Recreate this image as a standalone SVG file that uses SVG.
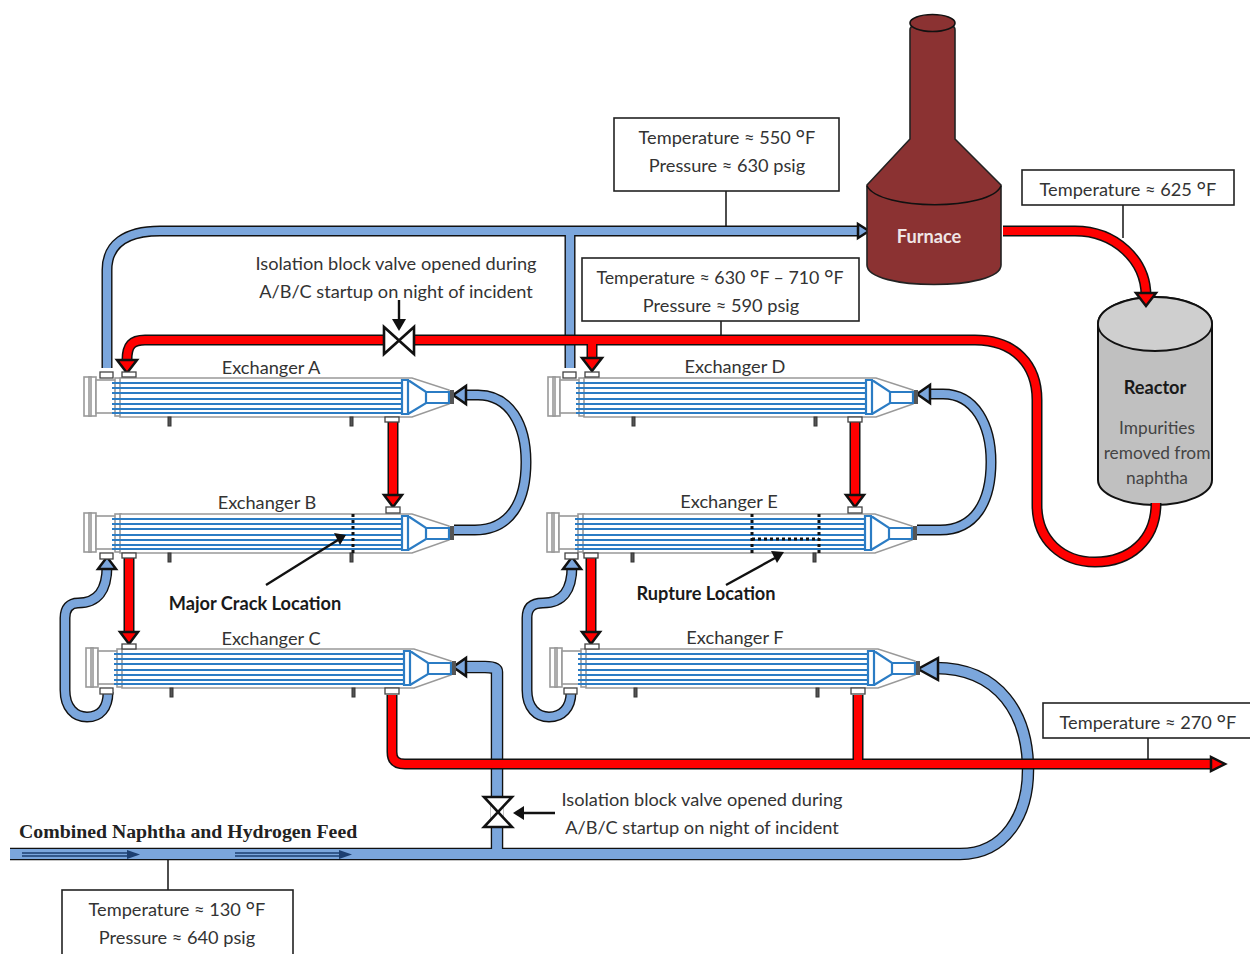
<svg xmlns="http://www.w3.org/2000/svg" xmlns:xlink="http://www.w3.org/1999/xlink" width="1250" height="954" viewBox="0 0 1250 954">
<style>
text{font-family:"Lato","Open Sans","Liberation Sans",sans-serif;font-size:18.2px;fill:#333;text-anchor:middle}
.b{font-weight:700;fill:#1a1a1a}
.s{font-size:17.3px;fill:#444}
.w{font-size:17.8px}
.feed{font-family:"Liberation Serif",serif;font-weight:700;font-size:19.800px;fill:#222;text-anchor:start}
.deg{font-size:23px}
.box{fill:#fff;stroke:#222;stroke-width:1.6}
.lead{fill:none;stroke:#222;stroke-width:1.6}
.po{fill:none;stroke:#111;stroke-width:11}
.pw{fill:none;stroke:#111;stroke-width:12.500}
.pb{fill:none;stroke:#7ba6dc;stroke-width:8.2}
.pf{fill:none;stroke:#7ba6dc;stroke-width:9.800}
.pr{fill:none;stroke:#f00;stroke-width:8}
.hb{fill:#7ba6dc;stroke:#111;stroke-width:2.5;stroke-linejoin:miter}
.hr{fill:#f00;stroke:#111;stroke-width:2.5;stroke-linejoin:miter}
.sh{fill:#fff;stroke:#999;stroke-width:1.6}
.tube{fill:none;stroke:#2b7cc4;stroke-width:2.2}
.tb{fill:#fff;stroke:#2b7cc4;stroke-width:2.2}
.noz{fill:#fff;stroke:#444;stroke-width:1.3}
.foot{fill:#555;stroke:#333;stroke-width:1}
.dash{fill:none;stroke:#111;stroke-width:3;stroke-dasharray:3 3}
.arr{fill:none;stroke:#111;stroke-width:2.4}
.valve{fill:#fff;stroke:#111;stroke-width:2.6;stroke-linejoin:miter}
</style>
<defs>
<g id="hx">
<rect class="sh" x="0" y="0" width="12" height="39"/>
<rect class="sh" x="5" y="0" width="2" height="39"/>
<rect class="sh" x="12" y="3" width="20" height="33"/>
<rect class="sh" x="31" y="1" width="6" height="38"/>
<path class="sh" d="M36 1H328L365 13V27L328 40H36Z"/>
<path class="tube" d="M28 6H318M28 11H318M28 16H318M28 22H318M28 27H318M28 32H318M28 36H318"/>
<path class="tb" d="M318 3H324V37H318ZM324 3L342 15H365V26H342L324 37"/>
<path class="tube" d="M342 15V26"/>
<rect x="366" y="13" width="4" height="14" fill="#555"/>
<rect class="foot" x="84" y="40" width="3" height="9"/>
<rect class="foot" x="266" y="40" width="3" height="9"/>
</g>
</defs>

<g id="reactor">
<path d="M1098 324A57 27 0 0 1 1212 324V480A57 25 0 0 1 1098 480Z" fill="#c0c0c0" stroke="#111" stroke-width="2"/>
<ellipse cx="1155" cy="324" rx="57" ry="27" fill="#cfcfcf" stroke="#111" stroke-width="1.800"/>
<text class="b" x="1155" y="394">Reactor</text>
<text class="s" x="1157" y="434">Impurities</text>
<text class="s" x="1157" y="459">removed from</text>
<text class="s" x="1157" y="484">naphtha</text>
</g>

<g id="connectors">
<path class="lead" d="M726 190V231M1123 205V238M721 320V340M1148 738V764M168 858V890"/>
<!-- blue feed -->
<path class="pw" d="M10 854H960C1005 854 1028 815 1028 770C1028 715 1000 668 935 668M497 854V672C497 668 492 667 485 667H465"/>
<path class="pf" d="M10 854H960C1005 854 1028 815 1028 770C1028 715 1000 668 935 668M497 854V672C497 668 492 667 485 667H465"/>
<!-- blue furnace feed -->
<path class="po" d="M107 368V270C107 245 125 231 160 231H862M570 231V368"/>
<path class="pb" d="M107 368V270C107 245 125 231 160 231H862M570 231V368"/>
<!-- blue loops -->
<path class="po" d="M462 395H478C510 395 526 425 526 462C526 502 510 530 475 530H454M925 394H943C975 394 991 425 991 462C991 502 975 530 940 530H917"/>
<path class="pb" d="M462 395H478C510 395 526 425 526 462C526 502 510 530 475 530H454M925 394H943C975 394 991 425 991 462C991 502 975 530 940 530H917"/>
<path class="po" d="M107 566C107 590 98 603 78 603C70 603 65 608 65 618V690C65 708 75 717 87 717C100 717 108 708 108 692M572 566C572 590 563 603 543 603C532 603 527 608 527 618V690C527 708 537 717 549 717C562 717 571 708 571 692"/>
<path class="pb" d="M107 566C107 590 98 603 78 603C70 603 65 608 65 618V690C65 708 75 717 87 717C100 717 108 708 108 692M572 566C572 590 563 603 543 603C532 603 527 608 527 618V690C527 708 537 717 549 717C562 717 571 708 571 692"/>
<!-- red -->
<path class="po" d="M1003 231H1075C1115 231 1146 260 1146 296M127 360C127 345 132 340 145 340H975C1015 340 1037 365 1037 400V505C1037 540 1062 562 1095 562C1130 562 1156 540 1156 503M592 340V360M393 422V498M855 422V498M129 558V634M591 558V634M392 695V752C392 760 396 764 405 764H1214M858 695V764"/>
<path class="pr" d="M1003 231H1075C1115 231 1146 260 1146 296M127 360C127 345 132 340 145 340H975C1015 340 1037 365 1037 400V505C1037 540 1062 562 1095 562C1130 562 1156 540 1156 503M592 340V360M393 422V498M855 422V498M129 558V634M591 558V634M392 695V752C392 760 396 764 405 764H1214M858 695V764"/>
<!-- heads -->
<path class="hb" d="M858 224V238L869 231Z"/>
<path class="hr" d="M1136 293H1156L1146 306Z"/>
<path class="hr" d="M117 360H137L127 373Z"/>
<path class="hr" d="M582 358H602L592 371Z"/>
<path class="hr" d="M384 495H402L393 507Z"/>
<path class="hr" d="M846 495H864L855 507Z"/>
<path class="hr" d="M120 632H138L129 644Z"/>
<path class="hr" d="M582 632H600L591 644Z"/>
<path class="hr" d="M1211 757V771L1225 764Z"/>
<path class="hb" d="M466 386V404L453 395Z"/>
<path class="hb" d="M930 385V403L917 394Z"/>
<path class="hb" d="M466 658V676L453 667Z"/>
<path class="hb" d="M938 658V680L918 669Z"/>
<path class="hb" d="M98 569H116L107 557Z"/>
<path class="hb" d="M563 569H581L572 557Z"/>
<!-- feed flow arrows -->
<path d="M22 853H128M22 856H128" stroke="#1d3f70" stroke-width="1.5" fill="none"/>
<path d="M127 850L140 854.500L127 859Z" fill="#1d3f70"/>
<path d="M235 853H340M235 856H340" stroke="#1d3f70" stroke-width="1.5" fill="none"/>
<path d="M339 850L352 854.500L339 859Z" fill="#1d3f70"/>
</g>

<g id="exchanger-a"><use xlink:href="#hx" href="#hx" x="84" y="377"/><rect class="noz" x="122" y="372" width="14" height="5"/><rect class="noz" x="385" y="417" width="14" height="5"/><rect class="noz" x="100" y="372" width="13" height="6"/><text x="271" y="374">Exchanger A</text></g>
<g id="exchanger-b"><use xlink:href="#hx" href="#hx" x="84" y="513"/><rect class="noz" x="386" y="507" width="14" height="6"/><rect class="noz" x="100" y="553" width="13" height="6"/><rect class="noz" x="122" y="553" width="14" height="5"/><path class="dash" d="M353 514V553"/><text x="267" y="509">Exchanger B</text></g>
<g id="exchanger-c"><use xlink:href="#hx" href="#hx" x="86" y="648"/><rect class="noz" x="122" y="644" width="14" height="5"/><rect class="noz" x="385" y="688" width="14" height="6"/><rect class="noz" x="100" y="688" width="13" height="6"/><text x="271" y="645">Exchanger C</text></g>
<g id="exchanger-d"><use xlink:href="#hx" href="#hx" x="548" y="377"/><rect class="noz" x="585" y="372" width="14" height="5"/><rect class="noz" x="848" y="417" width="14" height="5"/><rect class="noz" x="563" y="372" width="13" height="6"/><text x="735" y="373">Exchanger D</text></g>
<g id="exchanger-e"><use xlink:href="#hx" href="#hx" x="547" y="513"/><rect class="noz" x="848" y="507" width="14" height="6"/><rect class="noz" x="565" y="553" width="13" height="6"/><rect class="noz" x="584" y="553" width="14" height="5"/><path class="dash" d="M752 514V553M819 514V553M752 539H819"/><text x="729" y="508">Exchanger E</text></g>
<g id="exchanger-f"><use xlink:href="#hx" href="#hx" x="550" y="648"/><rect class="noz" x="585" y="644" width="14" height="5"/><rect class="noz" x="851" y="688" width="14" height="6"/><rect class="noz" x="564" y="688" width="13" height="6"/><text x="735" y="644">Exchanger F</text></g>

<g id="furnace">
<path d="M910 30C910 17 955 17 955 30V139L1001 185V265C1001 291 867 291 867 265V185L910 139Z" fill="#8b3232" stroke="#222" stroke-width="1.6"/>
<ellipse cx="932.500" cy="23" rx="22.500" ry="8.500" fill="#8b3232" stroke="#111" stroke-width="1.6"/>
<path d="M867 186C880 211 990 211 1001 186" fill="none" stroke="#111" stroke-width="1.6"/>
<text class="b" x="929" y="243" style="fill:#f0e6e6">Furnace</text>
</g>

<g id="valve-top"><rect x="384" y="334" width="30" height="12" fill="#fff"/><path class="valve" d="M384 327V354L414 327V354Z"/><path class="arr" d="M399 300V322"/><path d="M392 319H406L399 331Z" fill="#111"/></g>
<g id="valve-bottom"><rect x="491" y="797" width="12" height="30" fill="#fff"/><path class="valve" d="M484 797H512L484 827H512Z"/><path class="arr" d="M555 813H522"/><path d="M524 806V820L513 813Z" fill="#111"/></g>

<g id="label-550"><rect class="box" x="614" y="118" width="225" height="73"/><text x="727" y="144">Temperature ≈ 550 <tspan class="deg" dy="3">°</tspan><tspan dy="-3">F</tspan></text><text x="727" y="172">Pressure ≈ 630 psig</text></g>
<g id="label-625"><rect class="box" x="1022" y="170" width="212" height="35"/><text x="1128" y="196">Temperature ≈ 625 <tspan class="deg" dy="3">°</tspan><tspan dy="-3">F</tspan></text></g>
<g id="label-630"><rect class="box" x="582" y="258" width="277" height="63"/><text class="w" x="720" y="284">Temperature ≈ 630 <tspan class="deg" dy="3">°</tspan><tspan dy="-3">F</tspan> – 710 <tspan class="deg" dy="3">°</tspan><tspan dy="-3">F</tspan></text><text x="721" y="312">Pressure ≈ 590 psig</text></g>
<g id="label-270"><rect class="box" x="1043" y="703" width="210" height="35"/><text x="1148" y="729">Temperature ≈ 270 <tspan class="deg" dy="3">°</tspan><tspan dy="-3">F</tspan></text></g>
<g id="label-130"><rect class="box" x="62" y="890" width="231" height="70"/><text x="177" y="916">Temperature ≈ 130 <tspan class="deg" dy="3">°</tspan><tspan dy="-3">F</tspan></text><text x="177" y="944">Pressure ≈ 640 psig</text></g>

<g id="notes">
<text x="396" y="270">Isolation block valve opened during</text>
<text x="396" y="298">A/B/C startup on night of incident</text>
<text x="702" y="806">Isolation block valve opened during</text>
<text x="702" y="834">A/B/C startup on night of incident</text>
<text class="b" x="255" y="610">Major Crack Location</text>
<path class="arr" d="M266 585L338 540"/><path d="M334 533L346 535L340 545Z" fill="#111"/>
<text class="b" x="706" y="600">Rupture Location</text>
<path class="arr" d="M726 585L775 558"/><path d="M771 551L784 552L777 563Z" fill="#111"/>
<text class="feed" x="19" y="838">Combined Naphtha and Hydrogen Feed</text>
</g>
</svg>
